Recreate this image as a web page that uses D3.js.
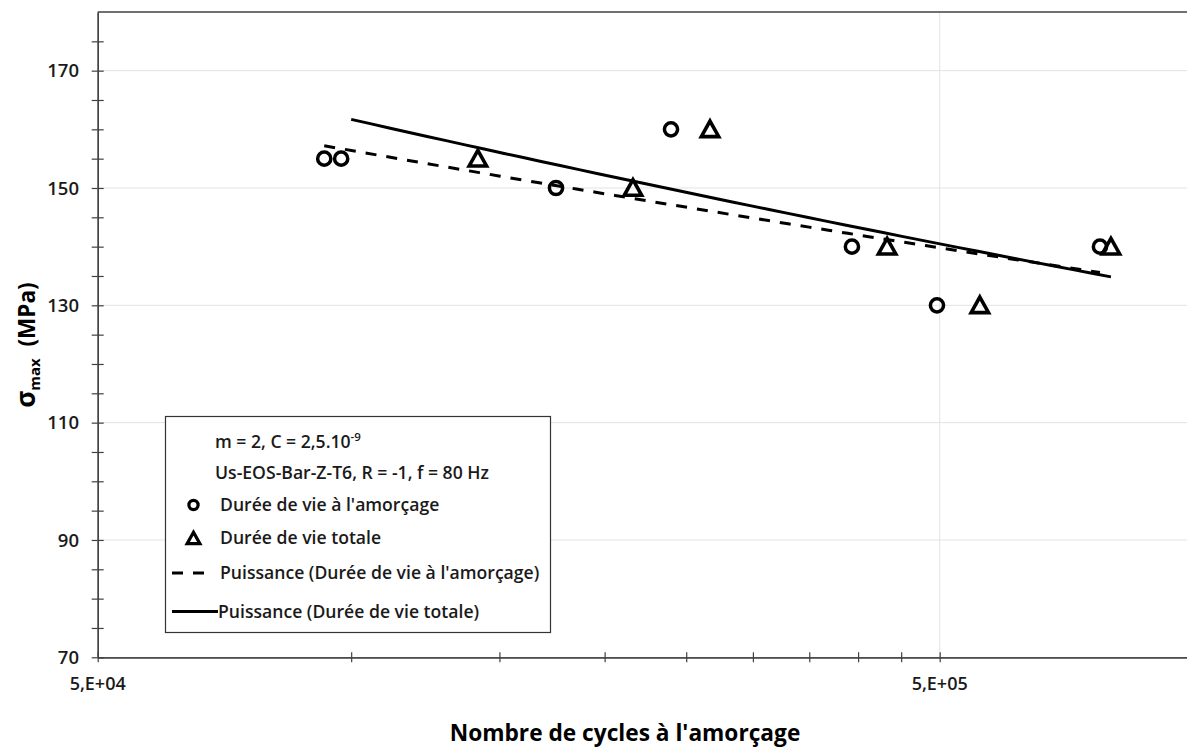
<!DOCTYPE html>
<html><head><meta charset="utf-8">
<script src="https://cdn.jsdelivr.net/npm/d3@7"></script>
<style>
body{margin:0;background:#fff;}
svg{display:block;font-family:"Open Sans",Lato,sans-serif;}
</style></head>
<body><svg id="c" width="1187" height="747"></svg>
<script>
// ---- data ----
const stressLevels = [155, 155, 150, 160, 140, 130, 140];            // MPa, circles
const cyclesInitiation = [92900, 97300, 175100, 239800, 393300, 496300, 775000];
const stressTotal = [155, 150, 160, 140, 130, 140];                  // MPa, triangles
const cyclesTotal = [141400, 216100, 266800, 433000, 558000, 798600];
// power trendlines: end points
const trendInitCycles = [92900, 775000];
const trendInitStress = [157.2, 135.6];
const trendTotalCycles = [100000, 798600];
const trendTotalStress = [161.7, 134.85];
const yMajorTicks = [70, 90, 110, 130, 150, 170];
const yMinorTicks = [75, 80, 85, 95, 100, 105, 115, 120, 125, 135, 140, 145, 155, 160, 165, 175];
const xMajorTicks = [5e4, 5e5];
const xMajorLabels = ["5,E+04", "5,E+05"];
const xMinorTicks = [1e5, 1.5e5, 2e5, 2.5e5, 3e5, 3.5e5, 4e5, 4.5e5];
const legendLabels = ["m = 2, C = 2,5.10", "Us-EOS-Bar-Z-T6, R = -1, f = 80 Hz",
  "Durée de vie à l'amorçage", "Durée de vie totale",
  "Puissance (Durée de vie à l'amorçage)", "Puissance (Durée de vie totale)"];

// ---- layout ----
const svg = d3.select("#c");
const L = 97.7, T = 12, B = 657.3;
const R = L + 842 * Math.log10(20);
const x = d3.scaleLog().domain([5e4, 1e6]).range([L, R]);
const y = d3.scaleLinear().domain([70, 180]).range([B, T]);
const axisCol = "#404040", gridCol = "#e3e3e3";

svg.append("rect").attr("width", 1187).attr("height", 747).attr("fill", "#fff");

// gridlines
svg.append("g").selectAll("line").data(yMajorTicks.slice(1)).join("line")
  .attr("x1", L).attr("x2", R).attr("y1", d => y(d)).attr("y2", d => y(d))
  .attr("stroke", gridCol).attr("stroke-width", 1);
svg.append("g").selectAll("line").data(xMajorTicks.slice(1)).join("line")
  .attr("x1", d => x(d)).attr("x2", d => x(d)).attr("y1", T).attr("y2", B)
  .attr("stroke", gridCol).attr("stroke-width", 1);

// plot border (top)
svg.append("line").attr("x1", L).attr("x2", R).attr("y1", T).attr("y2", T)
  .attr("stroke", axisCol).attr("stroke-width", 1.3);

function styleAxis(g) {
  g.select(".domain").attr("stroke", axisCol).attr("stroke-width", 1.3);
  g.selectAll(".tick line").attr("stroke", axisCol).attr("stroke-width", 1.2);
}
// y axis: cross ticks via left+right axes
const yVals = yMajorTicks.concat(yMinorTicks);
styleAxis(svg.append("g").attr("transform", `translate(${L},0)`)
  .call(d3.axisLeft(y).tickValues(yVals).tickSizeInner(6).tickSizeOuter(0).tickFormat("")));
styleAxis(svg.append("g").attr("transform", `translate(${L},0)`)
  .call(d3.axisRight(y).tickValues(yVals).tickSizeInner(6).tickSizeOuter(0).tickFormat("")));
svg.append("g").selectAll("text").data(yMajorTicks).join("text")
  .attr("x", 79).attr("y", d => y(d)).attr("dy", "0.36em").attr("text-anchor", "end")
  .attr("font-size", 18.5).attr("font-weight", 600).attr("fill", "#1a1a1a").text(d => d);

// x axis
const xTicks = xMajorTicks.concat(xMinorTicks);
styleAxis(svg.append("g").attr("transform", `translate(0,${B})`)
  .call(d3.axisBottom(x).tickValues(xTicks).tickSizeInner(5).tickSizeOuter(0).tickFormat("")));
styleAxis(svg.append("g").attr("transform", `translate(0,${B})`)
  .call(d3.axisTop(x).tickValues(xTicks).tickSizeInner(5).tickSizeOuter(0).tickFormat("")));
svg.append("g").selectAll("text").data(xMajorTicks).join("text")
  .attr("x", d => x(d)).attr("y", 684).attr("dy", "0.36em").attr("text-anchor", "middle")
  .attr("font-size", 18).attr("font-weight", 600).attr("fill", "#1a1a1a")
  .text((d, i) => xMajorLabels[i]);

// axis titles
svg.append("text").attr("x", 625).attr("y", 741).attr("text-anchor", "middle")
  .attr("font-size", 22.7).attr("font-weight", 700).attr("fill", "#000")
  .text("Nombre de cycles à l'amorçage");
const yt = svg.append("text").attr("transform", "translate(35,345) rotate(-90)")
  .attr("text-anchor", "middle").attr("font-size", 22.5).attr("font-weight", 700).attr("fill", "#000");
yt.append("tspan").attr("font-size", 26).text("σ");
yt.append("tspan").attr("font-size", 15).attr("dy", 5).text("max");
yt.append("tspan").attr("dy", -5).text("\u00a0\u00a0(MPa)");

// power trendlines through the read end points: y = a * x^b
function powerThrough(xs, ys) {
  const b = Math.log(ys[1] / ys[0]) / Math.log(xs[1] / xs[0]);
  const a = ys[0] / Math.pow(xs[0], b);
  return v => a * Math.pow(v, b);
}
const line = d3.line().x(d => x(d[0])).y(d => y(d[1]));
function curve(xs, ys) {
  const f = powerThrough(xs, ys);
  const l0 = Math.log10(xs[0]), l1 = Math.log10(xs[1]);
  return d3.range(0, 41).map(i => { const v = Math.pow(10, l0 + (l1 - l0) * i / 40); return [v, f(v)]; });
}
svg.append("path").attr("d", line(curve(trendInitCycles, trendInitStress))).attr("fill", "none")
  .attr("stroke", "#000").attr("stroke-width", 3).attr("stroke-dasharray", "11,10");
svg.append("path").attr("d", line(curve(trendTotalCycles, trendTotalStress))).attr("fill", "none")
  .attr("stroke", "#000").attr("stroke-width", 3);

// markers
const triPath = s => `M0,${-s * 0.62}L${s * 0.58},${s * 0.42}L${-s * 0.58},${s * 0.42}Z`;
svg.append("g").selectAll("circle").data(cyclesInitiation).join("circle")
  .attr("cx", d => x(d)).attr("cy", (d, i) => y(stressLevels[i])).attr("r", 6.6)
  .attr("fill", "none").attr("stroke", "#000").attr("stroke-width", 3.5);
svg.append("g").selectAll("path").data(cyclesTotal).join("path")
  .attr("transform", (d, i) => `translate(${x(d)},${y(stressTotal[i]) + 1})`)
  .attr("d", triPath(15)).attr("fill", "none").attr("stroke", "#000")
  .attr("stroke-width", 3.6).attr("stroke-linejoin", "miter");

// legend
const lg = svg.append("g");
lg.append("rect").attr("x", 165.5).attr("y", 416.5).attr("width", 385).attr("height", 216)
  .attr("fill", "#fff").attr("stroke", "#333").attr("stroke-width", 1.2);
const lgY = [441.5, 473, 505, 538, 573, 611.5];
const lgX = [215, 215, 220, 220, 220, 218];
lg.selectAll("text.lab").data(legendLabels).join("text").attr("class", "lab")
  .attr("x", (d, i) => lgX[i]).attr("y", (d, i) => lgY[i]).attr("dy", "0.36em")
  .attr("font-size", 17.6).attr("font-weight", 600).attr("fill", "#1a1a1a")
  .each(function (d, i) {
    const t = d3.select(this);
    t.append("tspan").text(d);
    if (i === 0) t.append("tspan").attr("font-size", 11.5).attr("dy", -7).text("-9");
  });
lg.append("circle").attr("cx", 193.5).attr("cy", lgY[2]).attr("r", 4.6)
  .attr("fill", "none").attr("stroke", "#000").attr("stroke-width", 3.2);
lg.append("path").attr("transform", `translate(193.5,${lgY[3] + 1})`).attr("d", triPath(11))
  .attr("fill", "none").attr("stroke", "#000").attr("stroke-width", 3.2);
lg.append("line").attr("x1", 172).attr("x2", 211).attr("y1", lgY[4]).attr("y2", lgY[4])
  .attr("stroke", "#000").attr("stroke-width", 3).attr("stroke-dasharray", "11,10");
lg.append("line").attr("x1", 172).attr("x2", 218).attr("y1", lgY[5]).attr("y2", lgY[5])
  .attr("stroke", "#000").attr("stroke-width", 3);
</script></body></html>
